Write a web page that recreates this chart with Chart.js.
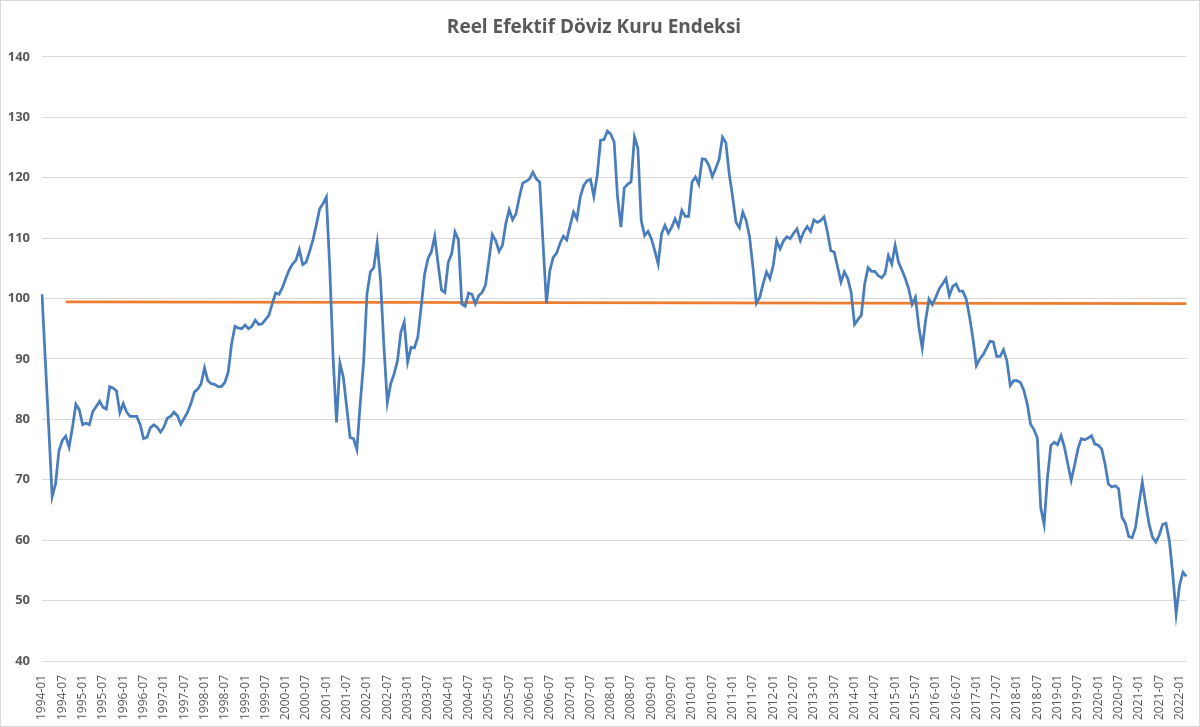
<!DOCTYPE html>
<html lang="tr">
<head>
<meta charset="UTF-8">
<title>Reel Efektif Döviz Kuru Endeksi</title>
<script src="https://cdn.jsdelivr.net/npm/chart.js@4.4.0/dist/chart.umd.min.js"></script>
<style>
  html,body{margin:0;padding:0;background:#fff}
  canvas{display:block}
</style>
</head>
<body>
<canvas id="c" width="1200" height="727"></canvas>
<script>
// monthly categories 1994-01 .. 2022-03
const firstYear = 1994, lastYear = 2022, lastMonth = 3;
const months = [];
for (let y = firstYear; y <= lastYear; y++) {
  for (let m = 1; m <= 12; m++) {
    if (y === lastYear && m > lastMonth) break;
    months.push(y + '-' + String(m).padStart(2, '0'));
  }
}

// index values, one row per year
const reer = [
  100.7, 89.5, 78.5, 67.2, 69.3, 74.8, 76.5, 77.2, 75.4, 78.7, 82.5, 81.6,
  79.1, 79.4, 79.1, 81.3, 82.1, 83.0, 82.0, 81.7, 85.4, 85.2, 84.7, 81.1,
  82.6, 81.2, 80.5, 80.5, 80.5, 79.1, 76.8, 77.0, 78.6, 79.1, 78.7, 77.9,
  78.7, 80.2, 80.5, 81.2, 80.6, 79.2, 80.2, 81.2, 82.6, 84.5, 85.0, 85.9,
  88.5, 86.4, 85.9, 85.8, 85.4, 85.4, 86.1, 87.8, 92.5, 95.4, 95.1, 95.0,
  95.6, 95.0, 95.4, 96.4, 95.7, 95.8, 96.5, 97.2, 99.1, 100.9, 100.7, 101.8,
  103.3, 104.7, 105.7, 106.3, 108.1, 105.6, 106.0, 107.7, 109.6, 112.1, 114.8, 115.7,
  116.8, 105.0, 90.0, 79.5, 89.3, 87.0, 82.0, 77.0, 76.8, 75.0, 82.6, 89.5,
  100.8, 104.4, 105.1, 109.2, 103.0, 92.0, 82.8, 85.9, 87.5, 89.7, 94.4, 96.1,
  89.5, 91.9, 91.8, 93.6, 98.6, 104.0, 106.6, 107.7, 110.3, 105.7, 101.4, 101.0,
  106.0, 107.4, 111.0, 109.7, 99.1, 98.7, 100.9, 100.7, 99.1, 100.5, 101.0, 102.2,
  106.3, 110.6, 109.6, 107.8, 108.8, 112.4, 114.7, 113.0, 114.0, 116.8, 119.1, 119.4,
  119.8, 120.9, 119.8, 119.3, 109.1, 99.2, 104.6, 106.8, 107.5, 109.1, 110.3, 109.7,
  112.1, 114.3, 113.2, 116.8, 118.7, 119.5, 119.7, 116.9, 120.4, 126.2, 126.3, 127.7,
  127.2, 125.9, 116.8, 111.8, 118.3, 118.9, 119.3, 126.7, 124.9, 112.9, 110.4, 111.1,
  109.9, 107.9, 105.7, 110.7, 112.1, 110.8, 111.8, 113.2, 111.9, 114.6, 113.6, 113.6,
  119.3, 120.1, 118.9, 123.1, 123.0, 122.0, 120.2, 121.5, 123.0, 126.7, 125.8, 120.6,
  116.8, 112.6, 111.7, 114.3, 112.9, 110.2, 105.2, 99.2, 100.2, 102.4, 104.4, 103.3,
  105.5, 109.6, 108.2, 109.5, 110.2, 109.9, 110.8, 111.5, 109.6, 111.0, 111.9, 111.1,
  113.0, 112.6, 112.9, 113.5, 111.0, 107.9, 107.7, 105.2, 102.7, 104.4, 103.3, 101.0,
  95.7, 96.5, 97.2, 102.4, 105.1, 104.5, 104.5, 103.8, 103.4, 104.1, 107.1, 105.7,
  108.8, 106.0, 104.7, 103.3, 101.6, 99.0, 100.2, 95.3, 91.8, 96.4, 99.9, 99.0,
  100.2, 101.6, 102.4, 103.3, 100.5, 102.0, 102.4, 101.2, 101.2, 99.9, 96.9, 93.3,
  88.9, 90.0, 90.7, 91.8, 92.9, 92.8, 90.4, 90.4, 91.5, 89.7, 85.6, 86.4,
  86.4, 86.1, 84.8, 82.6, 79.2, 78.3, 76.9, 65.4, 62.6, 70.4, 75.7, 76.2,
  75.8, 77.3, 75.4, 72.6, 69.9, 72.4, 75.1, 76.8, 76.6, 76.9, 77.3, 75.9,
  75.7, 75.1, 72.6, 69.3, 68.8, 69.0, 68.5, 63.8, 62.8, 60.6, 60.4, 62.1,
  66.0, 69.6, 66.0, 62.7, 60.5, 59.7, 60.8, 62.6, 62.8, 59.9, 54.4, 47.8,
  52.5, 54.7, 54.0
];

// orange reference line: end points only
const trendMonths = ['1994-08', '2022-03'];
const trendValues = [99.45, 99.15];

// y axis
const yMin = 40, yMax = 140, yStep = 10;

const grey = '#595959';
const fontFamily = '"Open Sans", "Liberation Sans", sans-serif';

const frame = {
  id: 'frame',
  beforeDraw(c) {
    const x = c.ctx; x.save(); x.fillStyle = '#fff'; x.fillRect(0, 0, c.width, c.height); x.restore();
  },
  afterDraw(c) {
    const x = c.ctx; x.save(); x.strokeStyle = '#d9d9d9'; x.lineWidth = 1;
    x.strokeRect(0.5, 0.5, c.width - 1, c.height - 1); x.restore();
  }
};

new Chart(document.getElementById('c'), {
  type: 'line',
  data: {
    labels: months,
    datasets: [
      {
        data: reer,
        borderColor: '#4a7dbb',
        borderWidth: 2.75,
        pointRadius: 0,
        tension: 0,
        order: 1
      },
      {
        data: trendMonths.map((m, i) => ({ x: m, y: trendValues[i] })),
        borderColor: '#ed7d31',
        borderWidth: 2.75,
        pointRadius: 0,
        tension: 0,
        order: 2
      }
    ]
  },
  options: {
    responsive: false,
    animation: false,
    layout: { padding: { left: 0, right: 12, top: 0, bottom: 0 } },
    plugins: {
      legend: { display: false },
      tooltip: { enabled: false },
      title: {
        display: true,
        text: 'Reel Efektif Döviz Kuru Endeksi',
        color: grey,
        font: { family: fontFamily, size: 19, weight: 'bold' },
        padding: { top: 16, bottom: 18 }
      }
    },
    scales: {
      x: {
        offset: false,
        grid: { display: false },
        border: { display: false },
        ticks: {
          autoSkip: false,
          maxRotation: 90,
          minRotation: 90,
          padding: 6,
          color: grey,
          font: { family: fontFamily, size: 12 },
          callback: (v, i) => (i % 6 === 0 ? months[i] : null)
        },
        afterFit: s => { s.height = 66; }
      },
      y: {
        min: yMin,
        max: yMax,
        grid: { color: '#d9d9d9', drawTicks: false },
        border: { display: false },
        ticks: {
          stepSize: yStep,
          padding: 12,
          color: grey,
          font: { family: fontFamily, size: 13, weight: 'bold' }
        },
        afterFit: s => { s.width = 42; }
      }
    }
  },
  plugins: [frame]
});
</script>
</body>
</html>
